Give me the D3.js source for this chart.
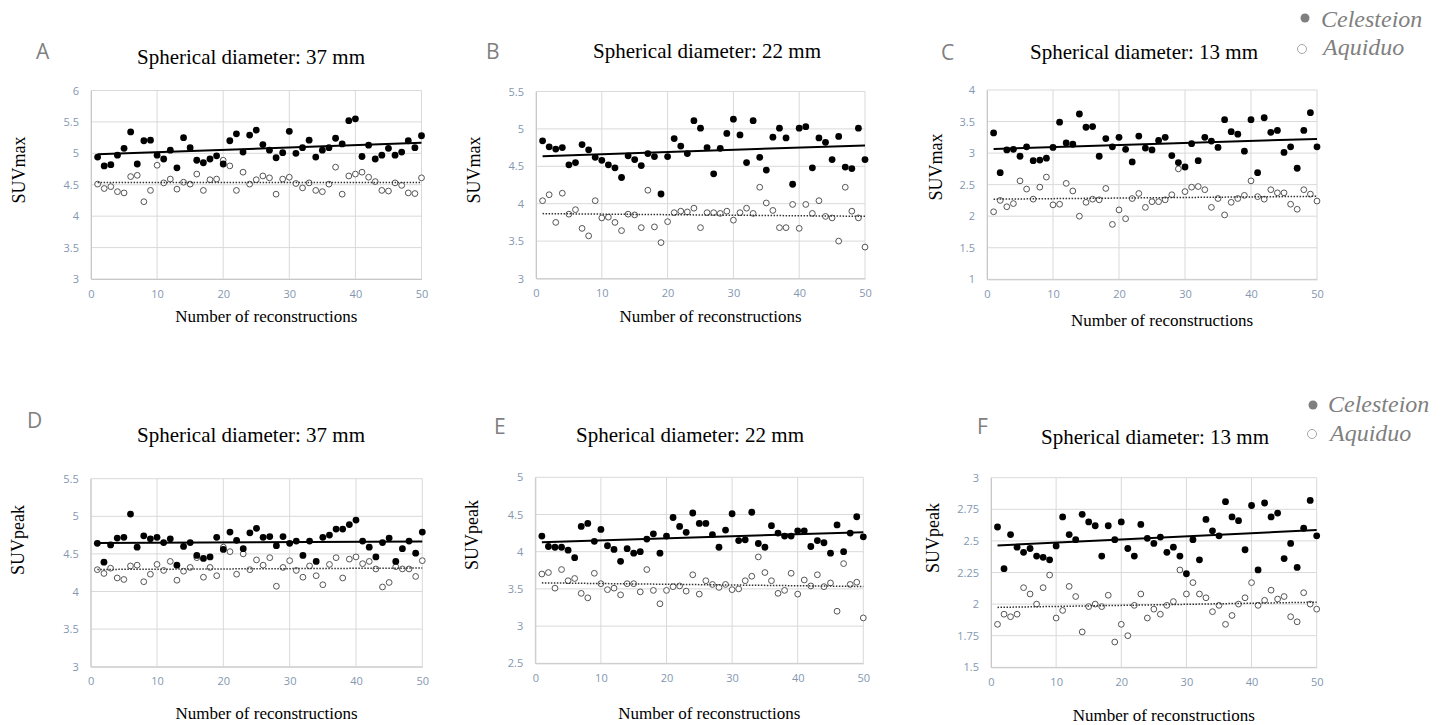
<!DOCTYPE html>
<html>
<head>
<meta charset="utf-8">
<script src="https://cdn.jsdelivr.net/npm/d3@7"></script>
<style>
  html, body { margin: 0; padding: 0; background: #fff; }
  svg { display: block; }
</style>
</head>
<body>
<svg id="chart" width="1449" height="725"></svg>
<script>
// ---------------- DATA ----------------
const reconstructions = d3.range(1, 51);
const xTicks = [0, 10, 20, 30, 40, 50];
const legendLabels = ["Celesteion", "Aquiduo"];

const celA = [4.94,4.80,4.82,4.97,5.08,5.34,4.83,5.20,5.21,4.97,4.91,5.05,4.77,5.25,5.09,4.89,4.85,4.91,4.96,4.83,
              5.20,5.31,5.02,5.29,5.37,5.14,5.05,4.93,5.01,5.35,5.00,5.09,5.21,4.94,5.05,5.09,5.24,5.15,5.52,5.55,
              4.95,5.13,4.91,4.97,5.08,4.97,5.02,5.20,5.09,5.28];
const aquA = [4.51,4.44,4.47,4.39,4.37,4.63,4.65,4.23,4.41,4.81,4.53,4.59,4.43,4.54,4.51,4.67,4.41,4.58,4.59,4.89,
              4.80,4.41,4.70,4.51,4.58,4.64,4.61,4.35,4.59,4.62,4.52,4.45,4.53,4.41,4.39,4.51,4.78,4.35,4.64,4.67,
              4.70,4.62,4.55,4.41,4.40,4.53,4.49,4.37,4.36,4.61];
const yTicksA = [3, 3.5, 4, 4.5, 5, 5.5, 6];

const celB = [4.84,4.76,4.73,4.75,4.52,4.55,4.79,4.72,4.62,4.58,4.52,4.48,4.35,4.64,4.59,4.51,4.67,4.63,4.13,4.63,
              4.87,4.77,4.67,5.11,5.01,4.75,4.40,4.74,4.94,5.13,4.92,4.55,5.11,4.62,4.45,4.89,5.01,4.88,4.26,5.01,
              5.03,4.48,4.88,4.82,4.59,4.90,4.49,4.47,5.01,4.59];
const aquB = [4.04,4.12,3.75,4.14,3.86,3.92,3.67,3.57,4.04,3.81,3.82,3.75,3.64,3.86,3.85,3.68,4.18,3.69,3.48,3.76,
              3.88,3.90,3.89,3.94,3.68,3.88,3.88,3.87,3.90,3.78,3.88,3.94,3.87,4.22,4.01,3.91,3.68,3.68,3.99,3.67,
              3.99,3.87,4.04,3.83,3.81,3.50,4.22,3.90,3.81,3.42];
const yTicksB = [3, 3.5, 4, 4.5, 5, 5.5];

const celC = [3.32,2.69,3.05,3.06,2.95,3.10,2.88,2.89,2.92,3.09,3.49,3.16,3.14,3.62,3.41,3.42,2.95,3.23,3.10,3.25,
              3.06,2.86,3.27,3.08,3.05,3.20,3.25,2.96,2.85,2.78,3.15,2.88,3.25,3.19,3.09,3.53,3.34,3.30,3.03,3.53,
              2.69,3.56,3.33,3.36,3.01,3.10,2.76,3.36,3.64,3.10];
const aquC = [2.07,2.25,2.15,2.20,2.56,2.43,2.27,2.46,2.62,2.18,2.19,2.52,2.40,2.00,2.22,2.27,2.26,2.44,1.87,2.10,
              1.96,2.28,2.36,2.14,2.23,2.23,2.26,2.34,2.75,2.39,2.46,2.47,2.42,2.14,2.28,2.02,2.22,2.28,2.33,2.56,
              2.31,2.27,2.42,2.37,2.37,2.19,2.11,2.42,2.35,2.24];
const yTicksC = [1, 1.5, 2, 2.5, 3, 3.5, 4];

const celD = [4.64,4.39,4.62,4.71,4.72,5.03,4.59,4.74,4.70,4.72,4.65,4.70,4.35,4.60,4.65,4.48,4.44,4.46,4.72,4.56,
              4.79,4.68,4.57,4.78,4.84,4.72,4.73,4.61,4.73,4.64,4.67,4.48,4.67,4.40,4.72,4.75,4.83,4.83,4.89,4.95,
              4.67,4.59,4.46,4.65,4.71,4.40,4.57,4.67,4.51,4.79];
const aquD = [4.29,4.24,4.31,4.18,4.16,4.34,4.35,4.13,4.23,4.36,4.28,4.40,4.15,4.27,4.32,4.45,4.19,4.32,4.21,4.59,
              4.53,4.23,4.50,4.29,4.42,4.35,4.45,4.07,4.32,4.41,4.28,4.19,4.34,4.21,4.09,4.36,4.45,4.18,4.43,4.46,
              4.37,4.40,4.30,4.06,4.12,4.33,4.30,4.30,4.20,4.41];
const yTicksD = [3, 3.5, 4, 4.5, 5, 5.5];

const celE = [4.21,4.07,4.06,4.06,4.02,3.92,4.34,4.38,4.14,4.30,4.08,4.03,3.87,4.04,3.98,4.00,4.17,4.24,3.98,4.21,
              4.46,4.34,4.26,4.52,4.38,4.38,4.23,4.06,4.29,4.51,4.15,4.16,4.53,4.11,4.06,4.35,4.25,4.21,4.21,4.28,
              4.28,4.07,4.15,4.12,3.98,4.36,4.00,4.25,4.47,4.20];
const aquE = [3.70,3.72,3.51,3.76,3.61,3.64,3.44,3.38,3.71,3.57,3.49,3.51,3.42,3.57,3.57,3.46,3.76,3.48,3.30,3.48,
              3.53,3.54,3.47,3.69,3.43,3.61,3.56,3.52,3.56,3.49,3.50,3.61,3.67,3.93,3.72,3.61,3.44,3.48,3.71,3.43,
              3.62,3.54,3.69,3.53,3.58,3.20,3.84,3.56,3.59,3.11];
const yTicksE = [2.5, 3, 3.5, 4, 4.5, 5];

const celF = [2.61,2.28,2.55,2.45,2.41,2.44,2.38,2.37,2.35,2.46,2.69,2.55,2.51,2.71,2.65,2.62,2.38,2.62,2.51,2.65,
              2.44,2.38,2.63,2.52,2.48,2.53,2.41,2.45,2.38,2.24,2.51,2.35,2.67,2.58,2.54,2.81,2.69,2.66,2.43,2.78,
              2.27,2.80,2.69,2.72,2.36,2.48,2.29,2.60,2.82,2.54];
const aquF = [1.84,1.92,1.90,1.92,2.13,2.08,2.00,2.13,2.23,1.89,1.95,2.14,2.06,1.78,1.98,2.00,1.98,2.07,1.70,1.84,
              1.75,1.99,2.08,1.89,1.96,1.92,1.99,2.02,2.27,2.08,2.17,2.08,2.05,1.94,1.99,1.84,1.91,2.00,2.05,2.17,
              1.99,2.03,2.11,2.04,2.06,1.90,1.86,2.09,2.00,1.96];
const yTicksF = [1.5, 1.75, 2, 2.25, 2.5, 2.75, 3];

// ---------------- LAYOUT ----------------
const panels = [
  { letter:"A", title:"Spherical diameter: 37 mm", yLabel:"SUVmax",  cel:celA, aqu:aquA, yTicks:yTicksA,
    box:{x0:91, x1:421.5, y0:90.5, y1:279}, letterPos:[36,59], titlePos:[251,64], yLabelPos:[25,170], xLabelY:322 },
  { letter:"B", title:"Spherical diameter: 22 mm", yLabel:"SUVmax",  cel:celB, aqu:aquB, yTicks:yTicksB,
    box:{x0:536, x1:865, y0:91.5, y1:278.5}, letterPos:[486,59], titlePos:[707,58], yLabelPos:[480,170], xLabelY:322 },
  { letter:"C", title:"Spherical diameter: 13 mm", yLabel:"SUVmax",  cel:celC, aqu:aquC, yTicks:yTicksC,
    box:{x0:987, x1:1317, y0:90, y1:279.3}, letterPos:[941,60], titlePos:[1144,59], yLabelPos:[942,167], xLabelY:326 },
  { letter:"D", title:"Spherical diameter: 37 mm", yLabel:"SUVpeak", cel:celD, aqu:aquD, yTicks:yTicksD,
    box:{x0:90.7, x1:422.3, y0:478.7, y1:666.7}, letterPos:[27,428], titlePos:[251,442], yLabelPos:[24,540], xLabelY:719 },
  { letter:"E", title:"Spherical diameter: 22 mm", yLabel:"SUVpeak", cel:celE, aqu:aquE, yTicks:yTicksE,
    box:{x0:535.3, x1:863.3, y0:477.3, y1:663.3}, letterPos:[494,434], titlePos:[690,442], yLabelPos:[478,535], xLabelY:719 },
  { letter:"F", title:"Spherical diameter: 13 mm", yLabel:"SUVpeak", cel:celF, aqu:aquF, yTicks:yTicksF,
    box:{x0:991, x1:1316.7, y0:477.7, y1:667.3}, letterPos:[977,434], titlePos:[1155,444], yLabelPos:[939,538], xLabelY:721 }
];

const legends = [
  { dots:[[1305,18],[1302,49]], texts:[[1321,27],[1323,55]] },
  { dots:[[1313,405],[1312,434]], texts:[[1328,412],[1330,441]] }
];

const svg = d3.select("#chart");
const SERIF = "'Liberation Serif', 'Times New Roman', serif";
const SANS = "'Open Sans', 'Liberation Sans', sans-serif";
const TICK_COLOR = "#8497b0";
const GRID = "#d9d9d9";

function regression(xs, ys) {
  const mx = d3.mean(xs), my = d3.mean(ys);
  let num = 0, den = 0;
  xs.forEach((x, i) => { num += (x - mx) * (ys[i] - my); den += (x - mx) * (x - mx); });
  const b = num / den;
  return { a: my - b * mx, b };
}

panels.forEach(p => {
  const g = svg.append("g");
  const x = d3.scaleLinear().domain([0, 50]).range([p.box.x0, p.box.x1]);
  const yMin = d3.min(p.yTicks), yMax = d3.max(p.yTicks);
  const y = d3.scaleLinear().domain([yMin, yMax]).range([p.box.y1, p.box.y0]);

  // gridlines
  g.append("g").selectAll("line.h").data(p.yTicks).join("line")
    .attr("x1", p.box.x0).attr("x2", p.box.x1)
    .attr("y1", d => y(d)).attr("y2", d => y(d))
    .attr("stroke", GRID).attr("stroke-width", 1);
  g.append("g").selectAll("line.v").data(xTicks).join("line")
    .attr("y1", p.box.y0).attr("y2", p.box.y1)
    .attr("x1", d => x(d)).attr("x2", d => x(d))
    .attr("stroke", GRID).attr("stroke-width", 1);

  // axes
  const yAxis = d3.axisLeft(y).tickValues(p.yTicks).tickSize(0).tickPadding(12)
    .tickFormat(d => String(+d.toFixed(2)));
  const ya = g.append("g").attr("transform", `translate(${p.box.x0},0)`).call(yAxis);
  ya.select(".domain").attr("stroke", "#c8c8c8");
  ya.selectAll("text").attr("fill", TICK_COLOR).style("font-family", SANS).style("font-size", "11px");

  const xAxis = d3.axisBottom(x).tickValues(xTicks).tickSize(0).tickPadding(11);
  const xa = g.append("g").attr("transform", `translate(0,${p.box.y1})`).call(xAxis);
  xa.select(".domain").attr("stroke", "#c8c8c8");
  xa.selectAll("text").attr("fill", TICK_COLOR).style("font-family", SANS).style("font-size", "11px");

  // open markers (Aquiduo)
  g.append("g").selectAll("circle").data(p.aqu).join("circle")
    .attr("cx", (d, i) => x(reconstructions[i])).attr("cy", d => y(d))
    .attr("r", 2.9).attr("fill", "#fff").attr("stroke", "#555").attr("stroke-width", 1);
  // filled markers (Celesteion)
  g.append("g").selectAll("circle").data(p.cel).join("circle")
    .attr("cx", (d, i) => x(reconstructions[i])).attr("cy", d => y(d))
    .attr("r", 3.4).attr("fill", "#000");

  // trend lines (least squares)
  const rC = regression(reconstructions, p.cel);
  const rA = regression(reconstructions, p.aqu);
  const xs = [1, 50];
  g.append("line")
    .attr("x1", x(xs[0])).attr("x2", x(xs[1]))
    .attr("y1", y(rA.a + rA.b * xs[0])).attr("y2", y(rA.a + rA.b * xs[1]))
    .attr("stroke", "#333").attr("stroke-width", 1.5).attr("stroke-dasharray", "1.5,1.5");
  g.append("line")
    .attr("x1", x(xs[0])).attr("x2", x(xs[1]))
    .attr("y1", y(rC.a + rC.b * xs[0])).attr("y2", y(rC.a + rC.b * xs[1]))
    .attr("stroke", "#000").attr("stroke-width", 2);

  // text
  g.append("text").attr("x", p.letterPos[0]).attr("y", p.letterPos[1])
    .text(p.letter).attr("fill", "#7f7f7f").style("font-family", SANS).style("font-size", "21px");
  g.append("text").attr("x", p.titlePos[0]).attr("y", p.titlePos[1]).attr("text-anchor", "middle")
    .text(p.title).attr("fill", "#000").style("font-family", SERIF).style("font-size", "21px");
  g.append("text").attr("transform", `translate(${p.yLabelPos[0]},${p.yLabelPos[1]}) rotate(-90)`)
    .attr("text-anchor", "middle").text(p.yLabel).attr("fill", "#000")
    .style("font-family", SERIF).style("font-size", "18px");
  g.append("text").attr("x", (p.box.x0 + p.box.x1) / 2 + 10).attr("y", p.xLabelY).attr("text-anchor", "middle")
    .text("Number of reconstructions").attr("fill", "#000")
    .style("font-family", SERIF).style("font-size", "17px");
});

// legends
legends.forEach(L => {
  const g = svg.append("g");
  g.append("circle").attr("cx", L.dots[0][0]).attr("cy", L.dots[0][1]).attr("r", 4.5).attr("fill", "#7f7f7f");
  g.append("circle").attr("cx", L.dots[1][0]).attr("cy", L.dots[1][1]).attr("r", 4.5)
    .attr("fill", "#fff").attr("stroke", "#a6a6a6").attr("stroke-width", 1);
  legendLabels.forEach((t, i) => {
    g.append("text").attr("x", L.texts[i][0]).attr("y", L.texts[i][1]).text(t)
      .attr("fill", "#7f7f7f").style("font-family", SERIF).style("font-style", "italic").style("font-size", "24px");
  });
});
</script>
</body>
</html>
